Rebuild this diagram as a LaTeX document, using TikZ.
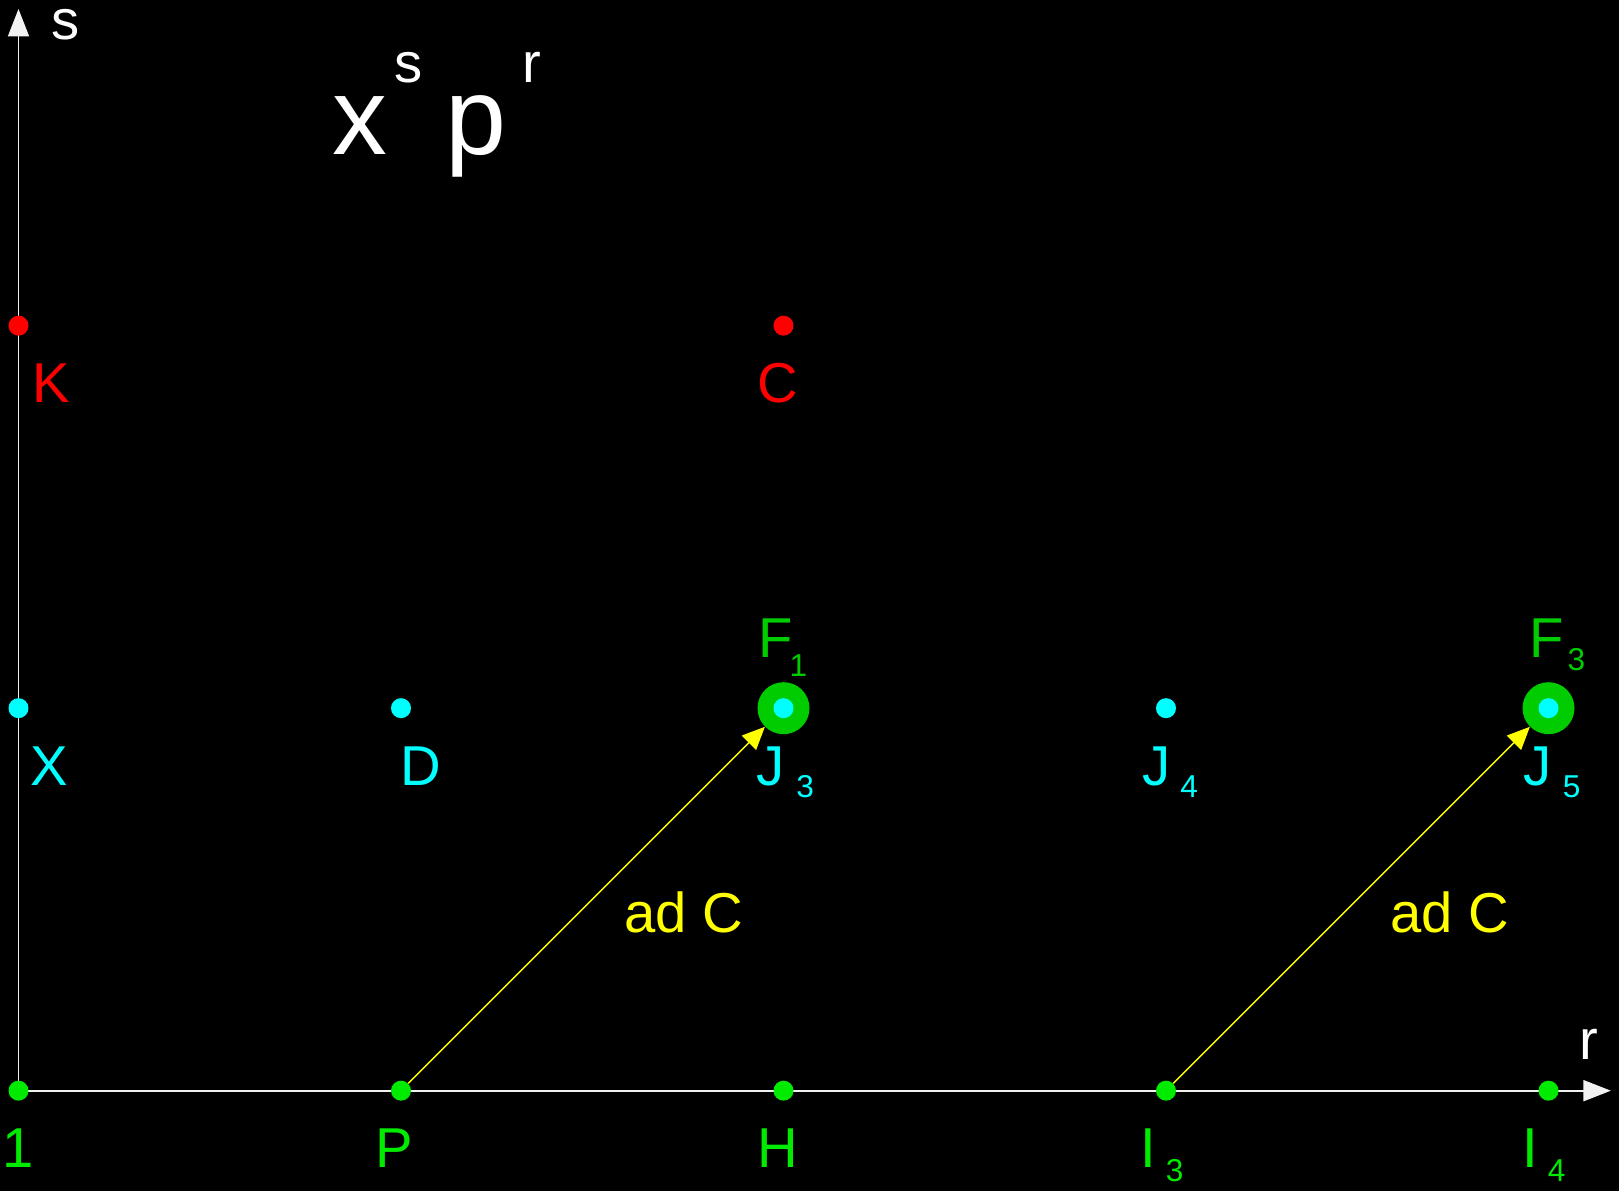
\documentclass[tikz,border=0pt]{standalone}
\usepackage{fontspec}
\setmainfont{Liberation Sans}
\usetikzlibrary{arrows.meta,calc}
\definecolor{dotgreen}{RGB}{0,235,0}
\definecolor{ringgreen}{RGB}{0,204,0}
\definecolor{dotcyan}{RGB}{0,255,255}
\definecolor{dotred}{RGB}{255,0,0}
\definecolor{adyellow}{RGB}{255,255,0}
\newcommand{\labfnt}{\fontsize{32}{36}\selectfont}
\newcommand{\subfnt}{\fontsize{18}{20}\selectfont}
\newcommand{\bigfnt}{\fontsize{62.4}{70}\selectfont}
\newcommand{\idx}[4]{#1\kern#3\raisebox{-#4}{\subfnt #2}}
\begin{document}
\begin{tikzpicture}[x=7.65cm,y=7.65cm,
  dot/.style={circle,fill,inner sep=0pt,minimum size=0.4cm},
  ring/.style={circle,fill=ringgreen,inner sep=0pt,minimum size=1.04cm},
  lab/.style={inner sep=0pt,font=\labfnt},
  axis/.style={draw=white!95!black,line width=1.1pt,-{Triangle[length=0.55cm,width=0.42cm]}},
  adarrow/.style={draw=adyellow,line width=0.8pt,-{Triangle[length=0.45cm,width=0.4cm]}}]
\fill[black] (-0.37cm,-2.006cm) rectangle (32.01cm,21.814cm);
\useasboundingbox (-0.37cm,-2.006cm) rectangle (32.01cm,21.814cm);
% axes
\coordinate (o) at (0,0);
\coordinate (stop) at (0,2.828);
\coordinate (rend) at (4.163,0);
\draw[axis] (o) -- (stop);
\draw[axis] (o) -- (rend);
\node[lab,text height=0.5cm,white,anchor=base west] (saxis) at (0.66cm,21.03cm) {s};
\node[lab,white,anchor=base west] (raxis) at (31.21cm,0.63cm) {r};
% title
\node[inner sep=0pt,font=\bigfnt,white,anchor=base west] (tx) at (6.27cm,18.73cm) {x};
\node[lab,white,anchor=base west] (ts) at (7.51cm,20.17cm) {s};
\node[inner sep=0pt,font=\bigfnt,white,anchor=base west] (tp) at (8.53cm,18.73cm) {p};
\node[lab,white,anchor=base west] (tr) at (10.07cm,20.17cm) {r};
% rings
\node[ring] (F1) at (2,1) {};
\node[ring] (F3) at (4,1) {};
% dots
\foreach \n/\x in {n1/0,P/1,H/2,I3/3,I4/4}
  \node[dot,dotgreen] (\n) at (\x,0) {};
\foreach \n/\x in {X/0,D/1,J3/2,J4/3,J5/4}
  \node[dot,dotcyan] (\n) at (\x,1) {};
\foreach \n/\x in {K/0,C/2}
  \node[dot,dotred] (\n) at (\x,2) {};
% labels
\node[lab,dotgreen,anchor=base,yshift=-1.54cm] (l1) at (n1) {1};
\node[lab,dotgreen,anchor=base,xshift=-0.14cm,yshift=-1.54cm] (lP) at (P) {P};
\node[lab,dotgreen,anchor=base,xshift=-0.12cm,yshift=-1.54cm] (lH) at (H) {H};
\node[lab,dotgreen,anchor=base west,xshift=-0.52cm,yshift=-1.54cm] (lI3) at (I3) {\idx{I}{3}{0.2cm}{0.28cm}};
\node[lab,dotgreen,anchor=base west,xshift=-0.52cm,yshift=-1.54cm] (lI4) at (I4) {\idx{I}{4}{0.19cm}{0.28cm}};
\node[lab,dotcyan,anchor=base,xshift=0.61cm,yshift=-1.54cm] (lX) at (X) {X};
\node[lab,dotcyan,anchor=base,xshift=0.40cm,yshift=-1.54cm] (lD) at (D) {D};
\node[lab,dotcyan,anchor=base west,xshift=-0.54cm,yshift=-1.54cm] (lJ3) at (J3) {\idx{J}{3}{0.23cm}{0.24cm}};
\node[lab,dotcyan,anchor=base west,xshift=-0.48cm,yshift=-1.54cm] (lJ4) at (J4) {\idx{J}{4}{0.2cm}{0.24cm}};
\node[lab,dotcyan,anchor=base west,xshift=-0.5cm,yshift=-1.54cm] (lJ5) at (J5) {\idx{J}{5}{0.22cm}{0.24cm}};
\node[lab,dotred,anchor=base,xshift=0.65cm,yshift=-1.54cm] (lK) at (K) {K};
\node[lab,dotred,anchor=base,xshift=-0.12cm,yshift=-1.54cm] (lC) at (C) {C};
\node[lab,ringgreen,anchor=base west,xshift=-0.51cm,yshift=1.02cm] (lF1) at (F1) {\idx{F}{1}{-0.06cm}{0.38cm}};
\node[lab,ringgreen,anchor=base west,xshift=-0.39cm,yshift=1.02cm] (lF3) at (F3) {\idx{F}{3}{0.08cm}{0.26cm}};
% ad C
\draw[adarrow] (P) -- (F1);
\draw[adarrow] (I3) -- (F3);
\node[lab,adyellow,anchor=base west,xshift=0.64cm,yshift=-0.66cm] (ad1) at ($(P)!0.5!(F1)$) {ad C};
\node[lab,adyellow,anchor=base west,xshift=0.66cm,yshift=-0.66cm] (ad3) at ($(I3)!0.5!(F3)$) {ad C};
\end{tikzpicture}
\end{document}
